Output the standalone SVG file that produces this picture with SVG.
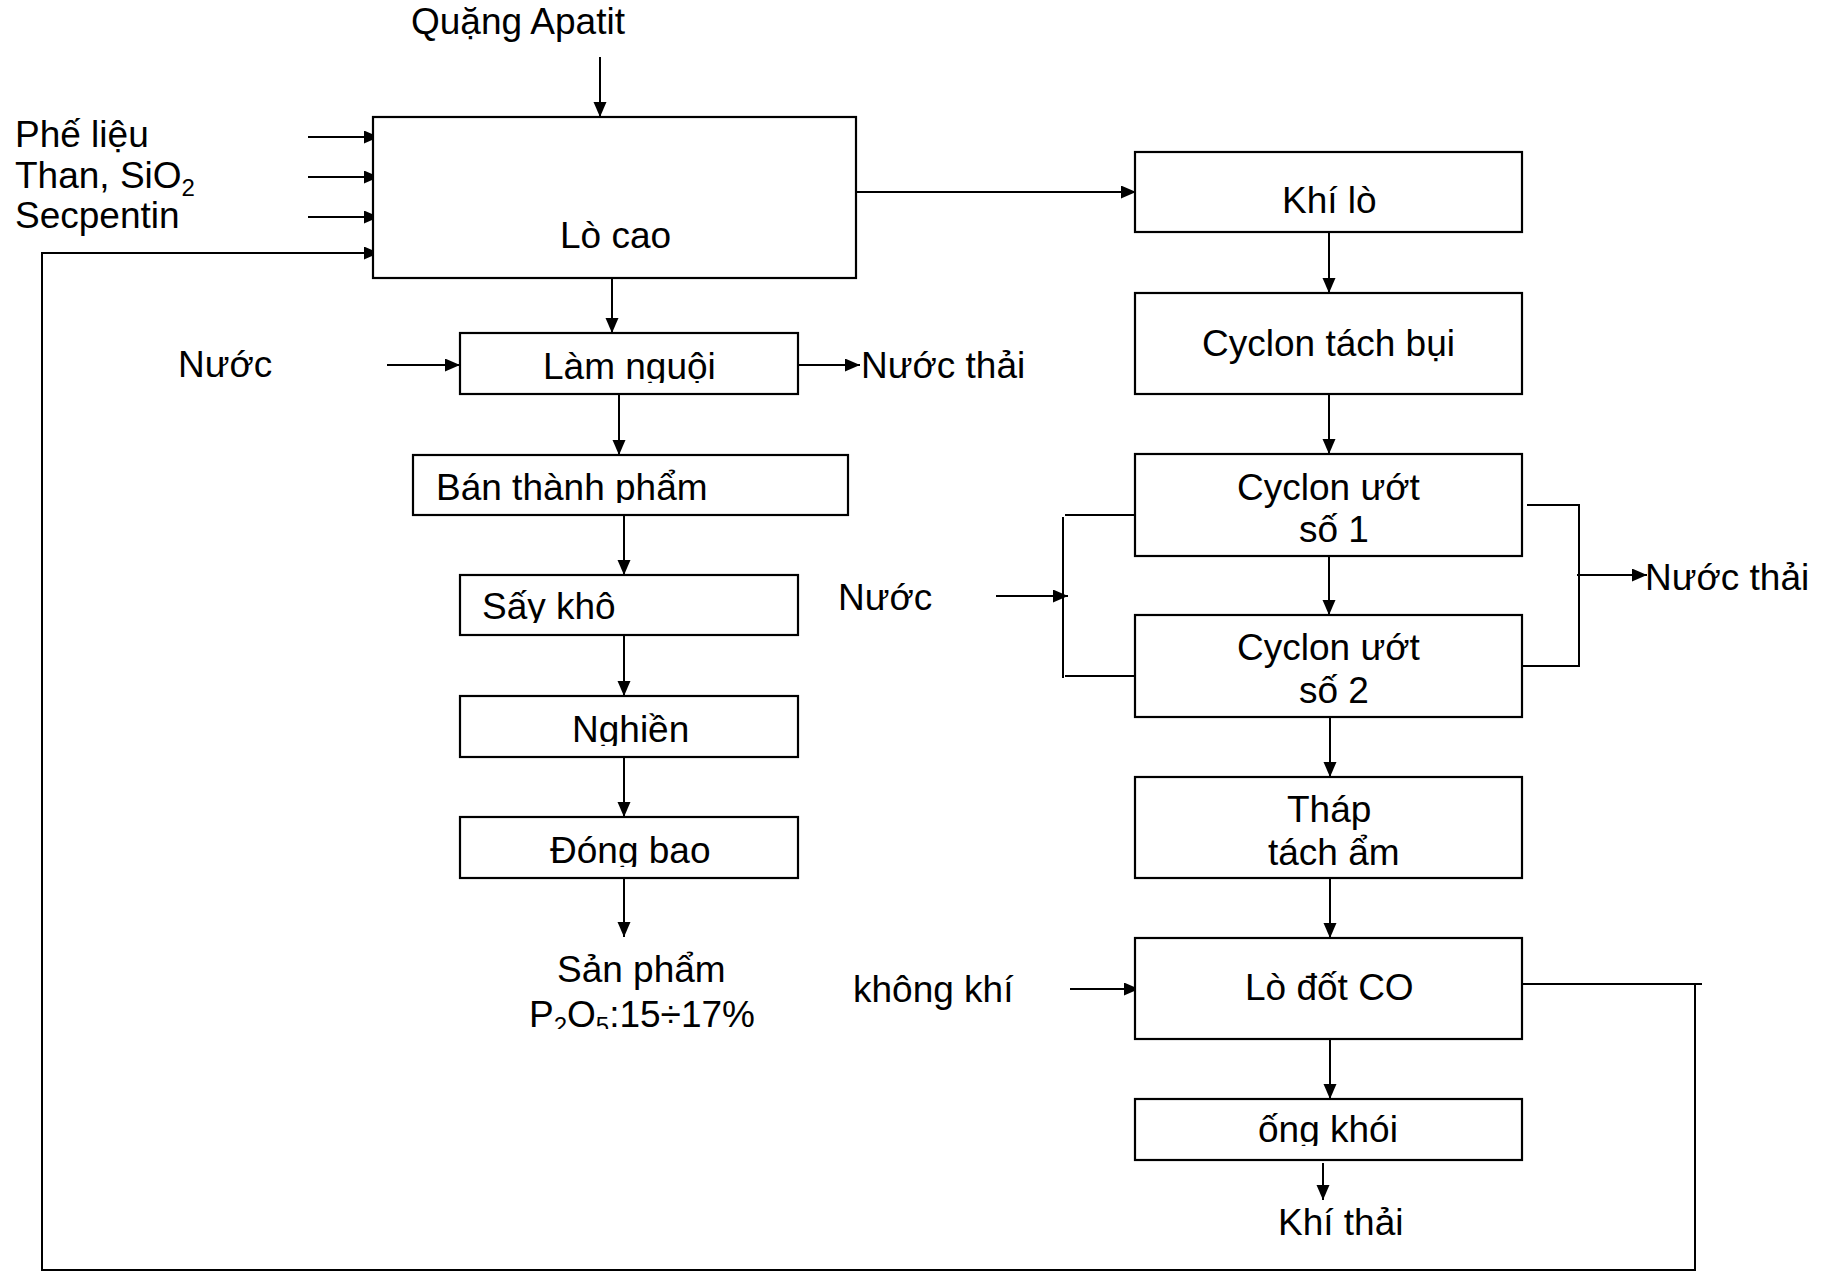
<svg xmlns="http://www.w3.org/2000/svg" width="1838" height="1273" viewBox="0 0 1838 1273">
<style>
.box{fill:#fff;stroke:#000;stroke-width:2.2}
.ln{fill:none;stroke:#000;stroke-width:2}
.ar{fill:none;stroke:#000;stroke-width:2;marker-end:url(#ah)}
text{font-family:"Liberation Sans",Arial,sans-serif;font-size:37px;fill:#000}
.sub{font-size:24px}
</style>
<defs>
<marker id="ah" markerUnits="userSpaceOnUse" markerWidth="16" markerHeight="14" refX="15" refY="6.5" orient="auto">
<path d="M0,0 L15,6.5 L0,13 z" fill="#000"/>
</marker>
<clipPath id="c1"><rect x="460" y="333" width="338" height="50"/></clipPath>
<clipPath id="c2"><rect x="413" y="455" width="435" height="48"/></clipPath>
<clipPath id="c3"><rect x="460" y="575" width="338" height="48"/></clipPath>
<clipPath id="c4"><rect x="460" y="696" width="338" height="50"/></clipPath>
<clipPath id="c5"><rect x="460" y="817" width="338" height="50"/></clipPath>
<clipPath id="c6"><rect x="1135" y="1099" width="387" height="47"/></clipPath>
<clipPath id="c7"><rect x="480" y="990" width="300" height="39"/></clipPath>
</defs>
<rect width="1838" height="1273" fill="#fff"/>

<g id="connectors">
<line class="ar" x1="600" y1="57" x2="600" y2="117"/>
<line class="ar" x1="308" y1="137" x2="379" y2="137"/>
<line class="ar" x1="308" y1="177" x2="379" y2="177"/>
<line class="ar" x1="308" y1="217" x2="379" y2="217"/>
<line class="ln" x1="1522" y1="984" x2="1702" y2="984"/>
<path class="ar" d="M1695,985 V1270 H42 V253 H379"/>
<line class="ar" x1="856" y1="192" x2="1136" y2="192"/>
<line class="ar" x1="612" y1="278" x2="612" y2="333"/>
<line class="ar" x1="387" y1="365" x2="460" y2="365"/>
<line class="ar" x1="798" y1="365" x2="860" y2="365"/>
<line class="ar" x1="619" y1="394" x2="619" y2="455"/>
<line class="ar" x1="624" y1="515" x2="624" y2="575"/>
<line class="ar" x1="624" y1="635" x2="624" y2="696"/>
<line class="ar" x1="624" y1="757" x2="624" y2="817"/>
<line class="ar" x1="624" y1="878" x2="624" y2="937"/>
<line class="ar" x1="1329" y1="232" x2="1329" y2="293"/>
<line class="ar" x1="1329" y1="394" x2="1329" y2="454"/>
<line class="ar" x1="1329" y1="556" x2="1329" y2="615"/>
<line class="ar" x1="1330" y1="717" x2="1330" y2="777"/>
<line class="ar" x1="1330" y1="878" x2="1330" y2="938"/>
<line class="ar" x1="1330" y1="1039" x2="1330" y2="1099"/>
<line class="ar" x1="1323" y1="1163" x2="1323" y2="1200"/>
<line class="ar" x1="1070" y1="989" x2="1139" y2="989"/>
<path class="ln" d="M1138,515 H1065 M1063,517 V678 M1065,676 H1138"/>
<line class="ar" x1="996" y1="596" x2="1068" y2="596"/>
<path class="ln" d="M1527,505 H1579 V666 H1523"/>
<line class="ar" x1="1577" y1="575" x2="1647" y2="575"/>
</g>

<g id="inputs">
<text x="411" y="34">Quặng Apatit</text>
<text x="15" y="147">Phế liệu</text>
<text x="15" y="188">Than, SiO<tspan class="sub" dy="8">2</tspan></text>
<text x="15" y="228">Secpentin</text>
<text x="178" y="377">Nước</text>
<text x="861" y="378">Nước thải</text>
<text x="838" y="610">Nước</text>
<text x="1645" y="590">Nước thải</text>
<text x="853" y="1002">không khí</text>
<text x="1278" y="1235">Khí thải</text>
</g>

<g id="lo-cao"><rect class="box" x="373" y="117" width="483" height="161"/><text x="560" y="248">Lò cao</text></g>
<g id="lam-nguoi"><rect class="box" x="460" y="333" width="338" height="61"/><text x="543" y="379" clip-path="url(#c1)">Làm nguội</text></g>
<g id="ban-thanh-pham"><rect class="box" x="413" y="455" width="435" height="60"/><text x="436" y="500" clip-path="url(#c2)">Bán thành phẩm</text></g>
<g id="say-kho"><rect class="box" x="460" y="575" width="338" height="60"/><text x="482" y="619" clip-path="url(#c3)">Sấy khô</text></g>
<g id="nghien"><rect class="box" x="460" y="696" width="338" height="61"/><text x="572" y="742" clip-path="url(#c4)">Nghiền</text></g>
<g id="dong-bao"><rect class="box" x="460" y="817" width="338" height="61"/><text x="550" y="863" clip-path="url(#c5)">Đóng bao</text></g>
<g id="san-pham">
<text x="557" y="982">Sản phẩm</text>
<text x="529" y="1027" clip-path="url(#c7)">P<tspan class="sub" dy="7">2</tspan><tspan dy="-7">O</tspan><tspan class="sub" dy="7">5</tspan><tspan dy="-7">:15÷17%</tspan></text>
</g>

<g id="khi-lo"><rect class="box" x="1135" y="152" width="387" height="80"/><text x="1282" y="213">Khí lò</text></g>
<g id="cyclon-tach-bui"><rect class="box" x="1135" y="293" width="387" height="101"/><text x="1202" y="356">Cyclon tách bụi</text></g>
<g id="cyclon-uot-1"><rect class="box" x="1135" y="454" width="387" height="102"/><text x="1237" y="500">Cyclon ướt</text><text x="1299" y="542">số 1</text></g>
<g id="cyclon-uot-2"><rect class="box" x="1135" y="615" width="387" height="102"/><text x="1237" y="660">Cyclon ướt</text><text x="1299" y="703">số 2</text></g>
<g id="thap-tach-am"><rect class="box" x="1135" y="777" width="387" height="101"/><text x="1287" y="822">Tháp</text><text x="1268" y="865">tách ẩm</text></g>
<g id="lo-dot-co"><rect class="box" x="1135" y="938" width="387" height="101"/><text x="1245" y="1000">Lò đốt CO</text></g>
<g id="ong-khoi"><rect class="box" x="1135" y="1099" width="387" height="61"/><text x="1258" y="1142" clip-path="url(#c6)">ống khói</text></g>
</svg>
